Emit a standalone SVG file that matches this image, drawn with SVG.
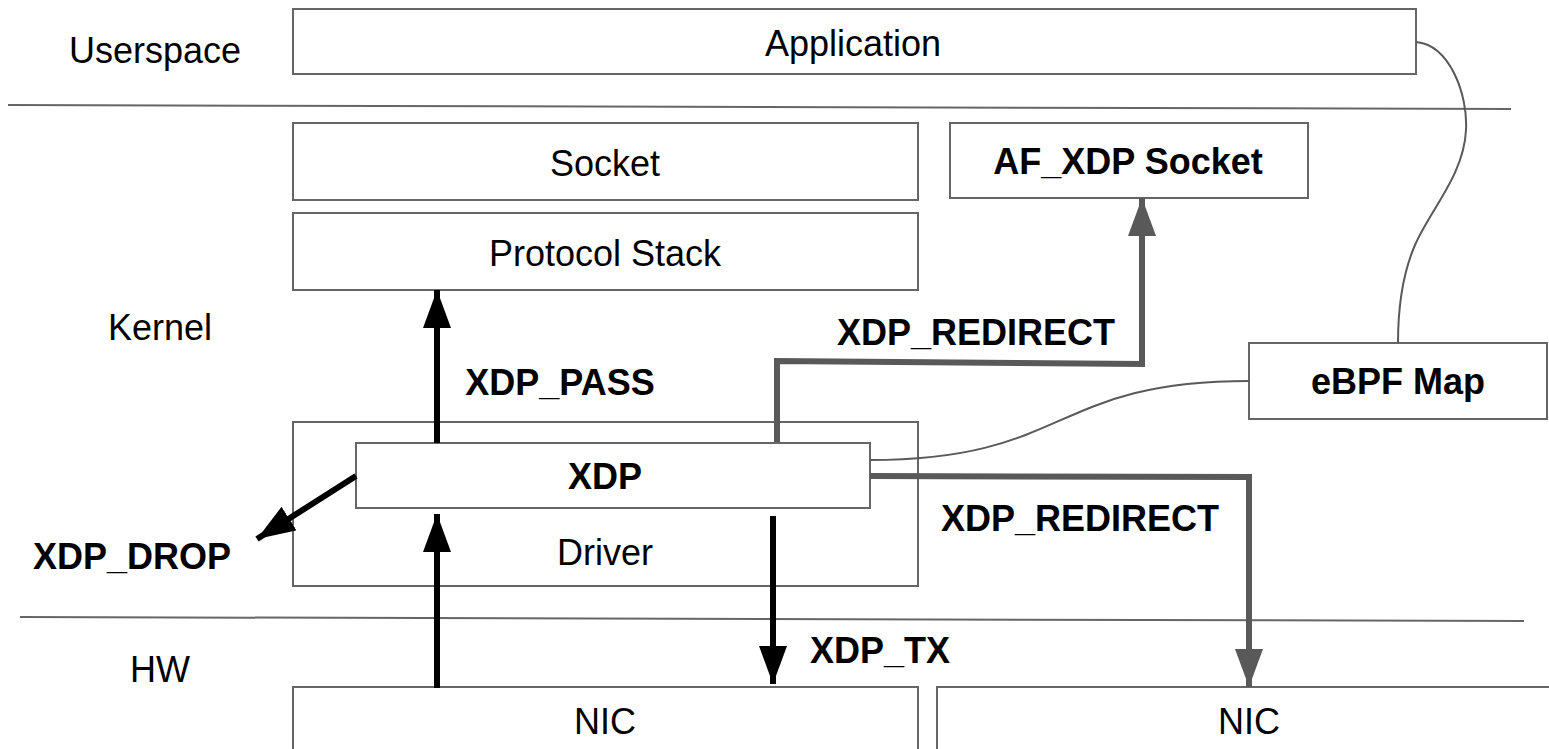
<svg xmlns="http://www.w3.org/2000/svg" width="1549" height="749" viewBox="0 0 1549 749">
  <style>
    text { font-family: "Liberation Sans", Arial, sans-serif; font-size: 36px; fill: #000; text-anchor: middle; }
    .b { font-weight: bold; }
    .box { fill: #fff; stroke: #666; stroke-width: 2; }
    .sep { stroke: #666; stroke-width: 2; fill: none; }
    .thin { stroke: #595959; stroke-width: 2; fill: none; }
    .blk { stroke: #000; stroke-width: 6; fill: none; }
    .gry { stroke: #595959; stroke-width: 6; fill: none; stroke-linejoin: miter; }
  </style>
  <defs>
    <marker id="headK" markerUnits="userSpaceOnUse" viewBox="0 0 38 28" refX="38" refY="14" markerWidth="38" markerHeight="28" orient="auto">
      <path d="M0,0 L38,14 L0,28 Z" fill="#000"/>
    </marker>
    <marker id="headG" markerUnits="userSpaceOnUse" viewBox="0 0 38 28" refX="38" refY="14" markerWidth="38" markerHeight="28" orient="auto">
      <path d="M0,0 L38,14 L0,28 Z" fill="#595959"/>
    </marker>
  </defs>

  <!-- layer separators -->
  <g id="separators">
    <line class="sep" x1="8" y1="105" x2="1511" y2="109"/>
    <line class="sep" x1="20" y1="617" x2="1524" y2="621"/>
  </g>

  <!-- layer labels -->
  <g id="layer-labels">
    <text x="155" y="63">Userspace</text>
    <text x="160" y="340">Kernel</text>
    <text x="160" y="682">HW</text>
  </g>

  <g id="application">
    <rect class="box" x="293" y="9" width="1123" height="65"/>
    <text x="853" y="56">Application</text>
  </g>

  <g id="socket">
    <rect class="box" x="293" y="123" width="625" height="77"/>
    <text x="605" y="176">Socket</text>
  </g>

  <g id="af-xdp-socket">
    <rect class="box" x="950" y="123" width="358" height="75"/>
    <text class="b" x="1128" y="174">AF_XDP Socket</text>
  </g>

  <g id="protocol-stack">
    <rect class="box" x="293" y="213" width="625" height="77"/>
    <text x="605" y="266">Protocol Stack</text>
  </g>

  <g id="ebpf-map">
    <rect class="box" x="1249" y="343" width="298" height="76"/>
    <text class="b" x="1398" y="394">eBPF Map</text>
  </g>

  <g id="driver">
    <rect class="box" x="293" y="422" width="625" height="164"/>
    <text x="605" y="565">Driver</text>
  </g>

  <g id="xdp">
    <rect class="box" x="356" y="443" width="514" height="65"/>
    <text class="b" x="605" y="489">XDP</text>
  </g>

  <g id="nic-1">
    <rect class="box" x="293" y="687" width="625" height="70"/>
    <text x="605" y="734">NIC</text>
  </g>

  <g id="nic-2">
    <rect class="box" x="937" y="687" width="620" height="70"/>
    <text x="1249" y="734">NIC</text>
  </g>

  <!-- connectors -->
  <g id="connectors">
    <!-- map links -->
    <path class="thin" d="M870,460 C1070,460 1050,381 1249,381"/>
    <path class="thin" d="M1416,42 C1450,45 1468,95 1466,130 C1464,175 1430,210 1415,245 C1402,275 1398,310 1398,343"/>

    <!-- XDP verdicts -->
    <line class="blk" x1="437" y1="443" x2="437" y2="290" marker-end="url(#headK)"/>
    <line class="blk" x1="437" y1="688" x2="437" y2="514" marker-end="url(#headK)"/>
    <line class="blk" x1="356" y1="476" x2="257" y2="539" marker-end="url(#headK)"/>
    <line class="blk" x1="773" y1="516" x2="773" y2="684" marker-end="url(#headK)"/>

    <polyline class="gry" points="777,442 777,361 1142,364 1142,198" marker-end="url(#headG)"/>
    <polyline class="gry" points="870,476 1249,477 1249,687" marker-end="url(#headG)"/>
  </g>

  <!-- verdict labels -->
  <g id="verdict-labels">
    <text class="b" x="976" y="345">XDP_REDIRECT</text>
    <text class="b" x="560" y="395">XDP_PASS</text>
    <text class="b" x="132" y="569">XDP_DROP</text>
    <text class="b" x="1080" y="531">XDP_REDIRECT</text>
    <text class="b" x="880" y="663">XDP_TX</text>
  </g>
</svg>
